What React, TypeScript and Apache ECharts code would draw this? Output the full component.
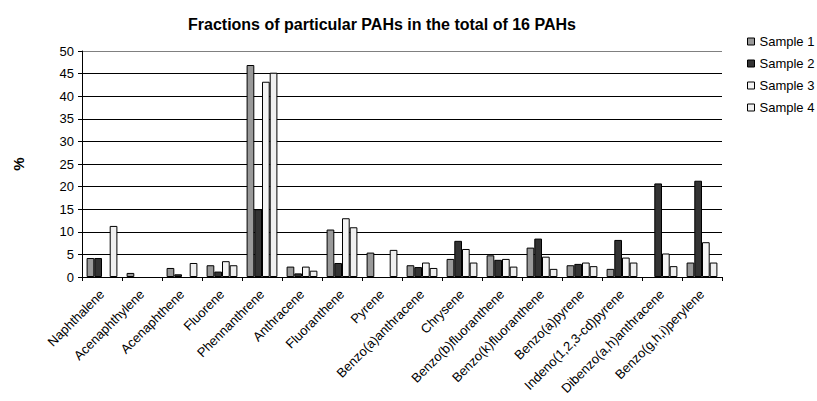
import React, { useEffect, useRef } from "react";
import * as echarts from "echarts";

const categories = [
  "Naphthalene",
  "Acenaphthylene",
  "Acenaphthene",
  "Fluorene",
  "Phennanthrene",
  "Anthracene",
  "Fluoranthene",
  "Pyrene",
  "Benzo(a)anthracene",
  "Chrysene",
  "Benzo(b)fluoranthene",
  "Benzo(k)fluoranthene",
  "Benzo(a)pyrene",
  "Indeno(1,2,3-cd)pyrene",
  "Dibenzo(a,h)anthracene",
  "Benzo(g,h,i)perylene",
];

const sample1 = [4.2, 0.9, 2.0, 2.6, 46.9, 2.3, 10.5, 5.4, 2.6, 4.0, 4.8, 6.5, 2.6, 1.8, 0, 3.2];
const sample2 = [4.2, 0, 0.6, 1.2, 15.0, 0.8, 3.1, 0, 2.2, 8.0, 3.8, 8.5, 2.9, 8.2, 20.7, 21.3];
const sample3 = [0, 0, 0, 3.5, 43.2, 2.3, 13.0, 0, 3.2, 6.2, 4.0, 4.5, 3.2, 4.3, 5.2, 7.7];
const sample4 = [11.3, 0, 3.1, 2.6, 45.2, 1.4, 11.0, 6.0, 2.0, 3.2, 2.3, 1.8, 2.4, 3.2, 2.4, 3.2];

const seriesNames = ["Sample 1", "Sample 2", "Sample 3", "Sample 4"];
const seriesColors = ["#999999", "#333333", "#f4f4f4", "#f0f0f0"];
const yTicks = { min: 0, max: 50, interval: 5 };

const FONT = "'Liberation Sans', Arial, sans-serif";

export default function App() {
  const ref = useRef<HTMLDivElement>(null);
  useEffect(() => {
    if (!ref.current) return;
    const chart = echarts.init(ref.current, undefined, { renderer: "svg" });
    const data = [sample1, sample2, sample3, sample4];
    const splitColors = new Array(11).fill("#000000");
    splitColors[10] = "#808080";
    chart.setOption({
      animation: false,
      backgroundColor: "#ffffff",
      textStyle: { fontFamily: FONT },
      title: {
        text: "Fractions of particular PAHs in the total of 16 PAHs",
        left: 183,
        top: 11,
        textStyle: { fontFamily: FONT, fontSize: 16, fontWeight: "bold", color: "#000" },
      },
      legend: {
        orient: "vertical",
        left: 742,
        top: 30,
        itemWidth: 7,
        itemHeight: 7,
        itemGap: 9,
        icon: "rect",
        data: seriesNames,
        textStyle: { fontFamily: FONT, fontSize: 13, color: "#000" },
        itemStyle: { borderColor: "#000", borderWidth: 1 },
      },
      grid: {
        left: 82,
        top: 51,
        right: 95,
        bottom: 124,
        containLabel: false,
        outerBoundsMode: "none",
      },
      xAxis: {
        type: "category",
        data: categories,
        axisLine: { lineStyle: { color: "#000", width: 1 } },
        axisTick: { show: true, length: 4, lineStyle: { color: "#000" } },
        axisLabel: {
          rotate: 45,
          interval: 0,
          fontFamily: FONT,
          fontSize: 13,
          color: "#000",
          margin: 15,
        },
        splitLine: { show: false },
      },
      yAxis: {
        type: "value",
        min: yTicks.min,
        max: yTicks.max,
        interval: yTicks.interval,
        name: "%",
        nameLocation: "middle",
        nameRotate: 90,
        nameGap: 56,
        nameTextStyle: { fontFamily: FONT, fontSize: 15, fontWeight: "bold", color: "#000" },
        axisLine: { show: true, lineStyle: { color: "#000", width: 1 } },
        axisTick: { show: true, length: 4, inside: false, lineStyle: { color: "#000" } },
        axisLabel: { fontFamily: FONT, fontSize: 13, color: "#000", margin: 8 },
        splitLine: { show: true, lineStyle: { color: splitColors, width: 1 } },
      },
      series: seriesNames.map((name, i) => ({
        name,
        type: "bar",
        data: data[i].map((v) => (v === 0 ? null : v)),
        barGap: "0%",
        barCategoryGap: "23%",
        itemStyle: { color: seriesColors[i], borderColor: "#000", borderWidth: 1 },
      })),
    });
    return () => chart.dispose();
  }, []);
  return (
    <div
      ref={ref}
      style={{ position: "fixed", left: 0, top: 0, width: 817, height: 401, background: "#fff" }}
    />
  );
}
